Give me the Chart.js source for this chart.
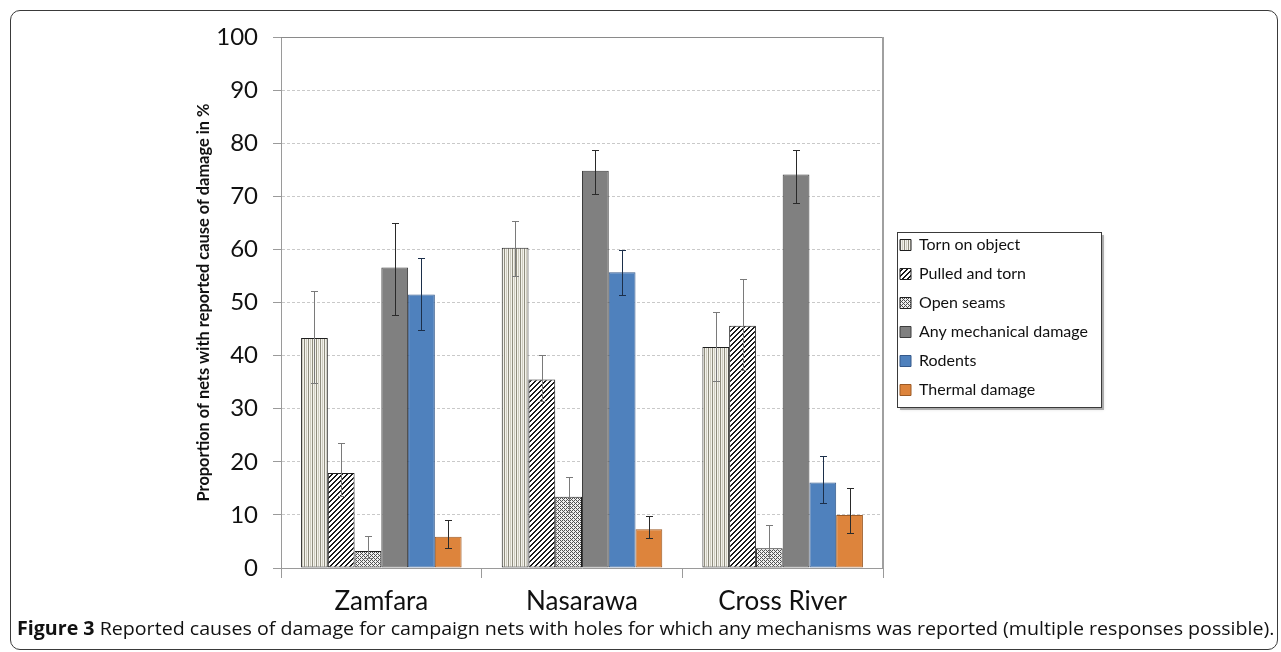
<!DOCTYPE html>
<html>
<head>
<meta charset="utf-8">
<script src="https://cdn.jsdelivr.net/npm/chart.js@4"></script>
<style>
  html, body { margin: 0; padding: 0; background: #fff; }
  #wrap { position: relative; width: 1281px; height: 652px; overflow: hidden; }
  #frame { position: absolute; left: 10px; top: 10px; width: 1266px; height: 638px; border: 1.5px solid #3a3a3a; border-radius: 10px; }
  #c { position: absolute; left: 0; top: 0; }
  #caption { position: absolute; left: 17px; top: 615px; white-space: nowrap; font-family: "Liberation Sans Narrow", "Open Sans", sans-serif; font-size: 19px; color: #111; transform-origin: 0 0; }
  #caption b { font-weight: bold; }
</style>
</head>
<body>
<div id="wrap">
  <div id="frame"></div>
  <canvas id="c" width="1281" height="652"></canvas>
  <div id="caption"><b>Figure 3</b> Reported causes of damage for campaign nets with holes for which any mechanisms was reported (multiple responses possible).</div>
</div>
<script>
// ---- Data ----
const categories = ['Zamfara', 'Nasarawa', 'Cross River'];
const seriesNames = ['Torn on object', 'Pulled and torn', 'Open seams', 'Any mechanical damage', 'Rodents', 'Thermal damage'];
const tornOnObject     = [43.3, 60.3, 41.6];
const tornOnObjectLow  = [34.8, 54.9, 35.3];
const tornOnObjectHigh = [52.2, 65.4, 48.2];
const pulledAndTorn     = [17.9, 35.5, 45.6];
const pulledAndTornLow  = [13.6, 31.4, 37.3];
const pulledAndTornHigh = [23.5, 40.1, 54.5];
const openSeams     = [3.2, 13.4, 3.7];
const openSeamsLow  = [1.8, 10.5, 1.9];
const openSeamsHigh = [6.0, 17.2, 8.1];
const anyMechanical     = [56.6, 74.8, 74.1];
const anyMechanicalLow  = [47.6, 70.5, 68.8];
const anyMechanicalHigh = [65.0, 78.8, 78.8];
const rodents     = [51.5, 55.7, 16.1];
const rodentsLow  = [44.8, 51.5, 12.2];
const rodentsHigh = [58.3, 59.9, 21.0];
const thermal     = [5.9, 7.3, 10.0];
const thermalLow  = [3.7, 5.6, 6.5];
const thermalHigh = [9.0, 9.7, 15.0];
const yTicks = [0, 10, 20, 30, 40, 50, 60, 70, 80, 90, 100];
const yTitle = 'Proportion of nets with reported cause of damage in %';

// ---- Patterns ----
function pixelPattern(size, fn) {
  const cv = document.createElement('canvas');
  cv.width = size; cv.height = size;
  const g = cv.getContext('2d');
  for (let y = 0; y < size; y++) for (let x = 0; x < size; x++) {
    g.fillStyle = fn(x, y);
    g.fillRect(x, y, 1, 1);
  }
  return g.createPattern(cv, 'repeat');
}
const vertPattern = pixelPattern(4, (x) => ['#8f8d7e', '#f3f2ec', '#cfcdc0', '#f3f2ec'][x]);
const diagPattern = pixelPattern(5, (x, y) => ((x + y) % 5 < 2 ? '#1a1a1a' : '#ffffff'));
const checkPattern = pixelPattern(4, (x, y) => {
  const m = ['1010', '0100', '1010', '0001'];
  return m[y][x] === '1' ? '#505050' : '#f0f0f0';
});

const fills   = [vertPattern, diagPattern, checkPattern, '#808080', '#4f81bd', '#dd843c'];
const borders = ['#1e1e1e', '#1e1e1e', '#1e1e1e', '#3c3c3c', '#35598a', '#9c5a25'];
const errColors = ['#7a7a7a', '#7a7a7a', '#7a7a7a', '#2a2a2a', '#1c2f4a', '#2a2a2a'];
const values = [tornOnObject, pulledAndTorn, openSeams, anyMechanical, rodents, thermal];
const lows   = [tornOnObjectLow, pulledAndTornLow, openSeamsLow, anyMechanicalLow, rodentsLow, thermalLow];
const highs  = [tornOnObjectHigh, pulledAndTornHigh, openSeamsHigh, anyMechanicalHigh, rodentsHigh, thermalHigh];

const datasets = seriesNames.map((name, i) => ({
  label: name,
  data: values[i],
  errLow: lows[i],
  errHigh: highs[i],
  errColor: errColors[i],
  backgroundColor: fills[i],
  borderColor: borders[i],
  borderWidth: 1,
  borderSkipped: false,
  barPercentage: 1.0,
  categoryPercentage: 0.8
}));

// ---- layout constants ----
const CHART_LEFT = 281, CHART_RIGHT = 883, CHART_TOP = 37, CHART_BOTTOM = 568;
const LEG_FONT = 16, LEG_PAD = 13, LEG_BOX = 11;

const errorBarPlugin = {
  id: 'errorBars',
  afterDatasetsDraw(chart) {
    const { ctx } = chart;
    const y = chart.scales.y;
    chart.data.datasets.forEach((ds, di) => {
      const meta = chart.getDatasetMeta(di);
      meta.data.forEach((bar, i) => {
        const x = Math.round(bar.x) + 0.5;
        const yh = Math.round(y.getPixelForValue(ds.errHigh[i])) + 0.5;
        const yl = Math.round(y.getPixelForValue(ds.errLow[i])) + 0.5;
        ctx.save();
        ctx.strokeStyle = ds.errColor;
        ctx.lineWidth = 1;
        ctx.beginPath();
        ctx.moveTo(x, yh); ctx.lineTo(x, yl);
        ctx.moveTo(x - 3.5, yh); ctx.lineTo(x + 3.5, yh);
        ctx.moveTo(x - 3.5, yl); ctx.lineTo(x + 3.5, yl);
        ctx.stroke();
        ctx.restore();
      });
    });
  }
};

const frameLegendPlugin = {
  id: 'frameLegend',
  afterLayout(chart) {
    const L = chart.legend;
    if (!L) return;
    const colH = (L.columnSizes && L.columnSizes[0]) ? L.columnSizes[0].height : 0;
    const cur = (L.top + LEG_PAD + L.bottom - colH) / 2;
    const dy = 237 - cur;
    L.top += dy; L.bottom += dy;
    const dx = (900 - LEG_PAD) - L.left;
    L.left += dx; L.right += dx;
  },
  beforeDraw(chart) {
    const { ctx } = chart;
    const bx = 897, by = 232, bw = 204, bh = 175;
    ctx.save();
    ctx.fillStyle = 'rgba(0,0,0,0.28)';
    ctx.shadowColor = 'rgba(0,0,0,0.35)';
    ctx.shadowBlur = 3;
    ctx.fillRect(bx + 3, by + 3, bw, bh);
    ctx.shadowColor = 'transparent';
    ctx.fillStyle = '#fff';
    ctx.fillRect(bx, by, bw, bh);
    ctx.strokeStyle = '#3a3a3a';
    ctx.lineWidth = 1;
    ctx.strokeRect(bx + 0.5, by + 0.5, bw, bh);
    ctx.restore();
  },
  afterDraw(chart) {
    const { ctx, chartArea: a } = chart;
    ctx.save();
    ctx.strokeStyle = '#8a8a8a';
    ctx.lineWidth = 1;
    ctx.beginPath();
    ctx.moveTo(a.left, a.top + 0.5); ctx.lineTo(a.right, a.top + 0.5);
    ctx.stroke();
    ctx.lineWidth = 2;
    ctx.strokeStyle = '#a0a0a0';
    ctx.beginPath();
    ctx.moveTo(a.right, a.top); ctx.lineTo(a.right, a.bottom);
    ctx.stroke();
    ctx.restore();
  }
};

const chart = new Chart(document.getElementById('c'), {
  type: 'bar',
  data: { labels: categories, datasets },
  plugins: [errorBarPlugin, frameLegendPlugin],
  options: {
    responsive: false,
    animation: false,
    layout: { padding: { left: 0, right: 170, top: CHART_TOP, bottom: 0 } },
    plugins: {
      tooltip: { enabled: false },
      legend: {
        position: 'right',
        align: 'center',
        labels: {
          boxWidth: LEG_BOX, boxHeight: LEG_BOX, padding: LEG_PAD,
          color: '#111',
          font: { family: 'Lato', size: LEG_FONT }
        }
      }
    },
    scales: {
      x: {
        afterFit(s) { s.height = 652 - CHART_BOTTOM; },
        grid: { display: true, drawOnChartArea: false, drawTicks: true, tickLength: 10, color: '#9a9a9a', offset: true },
        border: { display: true, color: '#9a9a9a', width: 1 },
        ticks: { color: '#111', padding: 8, font: { family: 'Lato', size: 26 } }
      },
      y: {
        min: 0, max: 100,
        afterFit(s) { s.width = CHART_LEFT; },
        afterBuildTicks(s) { s.ticks = yTicks.map(v => ({ value: v })); },
        grid: {
          color: (c) => (c.tick && (c.tick.value === 0 || c.tick.value === 100)) ? 'rgba(0,0,0,0)' : '#c9c9c9',
          tickColor: '#9a9a9a',
          tickLength: 8,
          lineWidth: 1
        },
        border: { display: true, color: '#9a9a9a', width: 1, dash: [3, 2] },
        ticks: { color: '#111', padding: 15, font: { family: 'Lato', size: 24 } },
        title: {
          display: true,
          text: yTitle,
          color: '#111',
          font: { family: 'Lato', size: 16.4, weight: 'bold' },
          padding: { top: 194, bottom: 0 }
        }
      }
    }
  }
});

// second pass: pin the plot area's right edge
const diff = chart.chartArea.right - CHART_RIGHT;
if (Math.abs(diff) > 0.2) {
  chart.options.layout.padding.right += diff;
  chart.update();
}

// fit caption to reference width
(function fitCaption() {
  const cap = document.getElementById('caption');
  const w = cap.scrollWidth;
  const target = 1257;
  if (w > 0) cap.style.transform = 'scaleX(' + (target / w) + ')';
})();
</script>
</body>
</html>
